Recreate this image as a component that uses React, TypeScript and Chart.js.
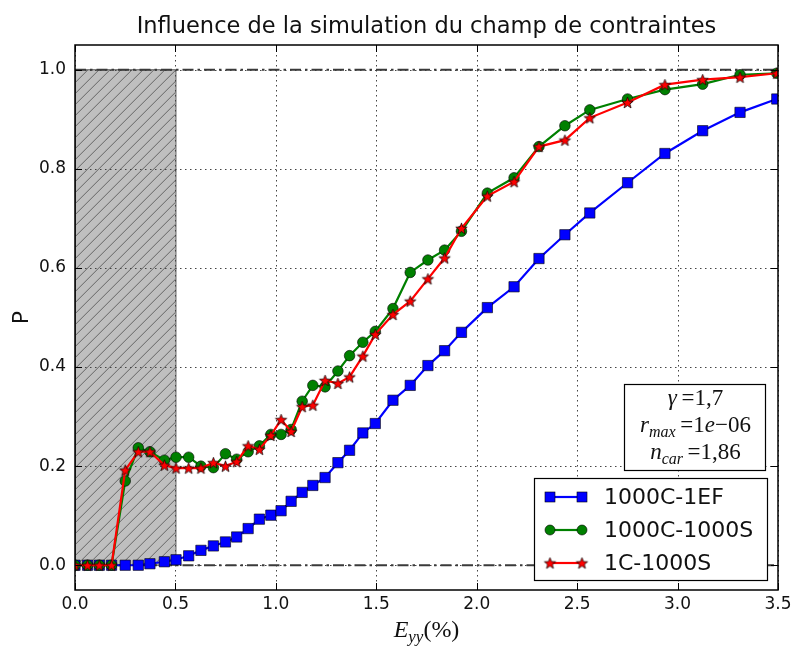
import React, { useEffect, useRef } from 'react';
import { Chart, registerables } from 'chart.js';

Chart.register(...registerables);

const TITLE = 'Influence de la simulation du champ de contraintes';
const Y_LABEL = 'P';
const X_TICKS = [0, 0.5, 1.0, 1.5, 2.0, 2.5, 3.0, 3.5];
const Y_TICKS = [0, 0.2, 0.4, 0.6, 0.8, 1.0];
const SERIES_NAMES = ['1000C-1EF', '1000C-1000S', '1C-1000S'];
const ANNOTATION_VALUES = ['1,7', '1e\u221206', '1,86'];

const strain = [0, 0.0625, 0.121, 0.182, 0.25, 0.315, 0.373, 0.445, 0.503, 0.566, 0.627, 0.689, 0.749, 0.805, 0.862, 0.918, 0.975, 1.026, 1.076, 1.131, 1.184, 1.245, 1.309, 1.367, 1.433, 1.495, 1.583, 1.669, 1.757, 1.84, 1.924, 2.053, 2.186, 2.31, 2.439, 2.563, 2.751, 2.937, 3.125, 3.311, 3.494];
const p1000C1EF = [0, 0, 0, 0, 0, 0, 0.003, 0.007, 0.011, 0.019, 0.03, 0.039, 0.047, 0.057, 0.074, 0.093, 0.101, 0.11, 0.129, 0.147, 0.161, 0.177, 0.207, 0.232, 0.267, 0.286, 0.333, 0.363, 0.403, 0.433, 0.47, 0.52, 0.562, 0.619, 0.667, 0.711, 0.772, 0.831, 0.877, 0.914, 0.941];
const p1000C1000S = [0, 0, 0, 0, 0.17, 0.237, 0.229, 0.212, 0.218, 0.218, 0.2, 0.197, 0.225, 0.214, 0.229, 0.241, 0.264, 0.264, 0.274, 0.331, 0.363, 0.36, 0.392, 0.423, 0.45, 0.472, 0.518, 0.591, 0.616, 0.636, 0.674, 0.751, 0.782, 0.845, 0.887, 0.919, 0.941, 0.96, 0.971, 0.99, 0.993];
const p1C1000S = [0, 0, 0, 0, 0.192, 0.229, 0.229, 0.202, 0.196, 0.196, 0.196, 0.207, 0.2, 0.209, 0.241, 0.234, 0.262, 0.294, 0.27, 0.32, 0.323, 0.373, 0.367, 0.38, 0.422, 0.466, 0.506, 0.533, 0.578, 0.62, 0.68, 0.745, 0.774, 0.845, 0.858, 0.903, 0.934, 0.97, 0.98, 0.985, 0.993];

const HATCH_X = [0, 0.5];
const HATCH_Y = [0, 1];
const REF_LINES = [0, 1];

const BLUE = '#0000ff';
const GREEN = '#008000';
const RED = '#ff0000';

function makeStar(R: number, fill: string): HTMLCanvasElement {
  const c = document.createElement('canvas');
  const s = Math.ceil(2 * R + 3);
  c.width = s;
  c.height = s;
  const g = c.getContext('2d')!;
  g.translate(s / 2, s / 2 + 0.6);
  g.beginPath();
  for (let i = 0; i < 10; i++) {
    const r = i % 2 === 0 ? R : R * 0.42;
    const a = -Math.PI / 2 + (i * Math.PI) / 5;
    g.lineTo(r * Math.cos(a), r * Math.sin(a));
  }
  g.closePath();
  g.fillStyle = fill;
  g.fill();
  g.strokeStyle = '#000';
  g.lineWidth = 0.7;
  g.stroke();
  return c;
}

type Run = { t: string; it?: boolean; sub?: boolean };

function drawRuns(ctx: CanvasRenderingContext2D, runs: Run[], cx: number, baseline: number, size: number, family: string) {
  const fontFor = (r: Run) => `${r.it ? 'italic ' : ''}${r.sub ? Math.round(size * 0.7) : size}px ${family}`;
  let total = 0;
  for (const r of runs) {
    ctx.font = fontFor(r);
    total += ctx.measureText(r.t).width;
  }
  let x = cx - total / 2;
  ctx.textAlign = 'left';
  ctx.textBaseline = 'alphabetic';
  for (const r of runs) {
    ctx.font = fontFor(r);
    ctx.fillText(r.t, x, baseline + (r.sub ? size * 0.22 : 0));
    x += ctx.measureText(r.t).width;
  }
}

export default function App() {
  const ref = useRef<HTMLCanvasElement | null>(null);

  useEffect(() => {
    if (!ref.current) return;
    const star = makeStar(6, RED);
    const toPts = (ys: number[]) => strain.map((x, i) => ({ x, y: ys[i] }));

    const background = {
      id: 'background',
      beforeDatasetsDraw(chart: any) {
        const { ctx, chartArea: a, scales } = chart;
        const xs = scales.x;
        const ys = scales.y;
        ctx.save();
        // hatched region
        const x0 = xs.getPixelForValue(HATCH_X[0]);
        const x1 = xs.getPixelForValue(HATCH_X[1]);
        const y0 = ys.getPixelForValue(HATCH_Y[0]);
        const y1 = ys.getPixelForValue(HATCH_Y[1]);
        ctx.fillStyle = '#bfbfbf';
        ctx.fillRect(x0, y1, x1 - x0, y0 - y1);
        ctx.save();
        ctx.beginPath();
        ctx.rect(x0, y1, x1 - x0, y0 - y1);
        ctx.clip();
        ctx.beginPath();
        const h = y0 - y1;
        for (let k = -h - 20; k < x1 - x0 + 20; k += 11) {
          ctx.moveTo(x0 + k, y0);
          ctx.lineTo(x0 + k + h, y1);
        }
        ctx.strokeStyle = '#666';
        ctx.lineWidth = 1;
        ctx.stroke();
        ctx.restore();
        ctx.strokeStyle = '#555';
        ctx.lineWidth = 1;
        ctx.strokeRect(x0 + 0.5, y1, x1 - x0, y0 - y1);

        // grid
        ctx.strokeStyle = '#444';
        ctx.lineWidth = 1;
        ctx.setLineDash([1.5, 3.5]);
        ctx.beginPath();
        for (const v of X_TICKS) {
          const px = Math.round(xs.getPixelForValue(v)) + 0.5;
          ctx.moveTo(px, a.top);
          ctx.lineTo(px, a.bottom);
        }
        for (const v of Y_TICKS) {
          const py = Math.round(ys.getPixelForValue(v)) + 0.5;
          ctx.moveTo(a.left, py);
          ctx.lineTo(a.right, py);
        }
        ctx.stroke();

        // dash-dot reference lines
        ctx.setLineDash([11, 4, 2.5, 4]);
        ctx.strokeStyle = '#3a3a3a';
        ctx.lineWidth = 2;
        ctx.beginPath();
        for (const v of REF_LINES) {
          const py = ys.getPixelForValue(v);
          ctx.moveTo(a.left, py);
          ctx.lineTo(a.right, py);
        }
        ctx.stroke();
        ctx.setLineDash([]);
        ctx.restore();
      },
      afterDatasetsDraw(chart: any) {
        const { ctx, chartArea: a, scales } = chart;
        const xs = scales.x;
        const ys = scales.y;
        ctx.save();
        // frame
        ctx.strokeStyle = '#000';
        ctx.lineWidth = 1.5;
        ctx.strokeRect(a.left, a.top, a.right - a.left, a.bottom - a.top);
        // ticks
        ctx.lineWidth = 1;
        ctx.beginPath();
        for (const v of X_TICKS) {
          const px = Math.round(xs.getPixelForValue(v)) + 0.5;
          ctx.moveTo(px, a.bottom);
          ctx.lineTo(px, a.bottom - 7);
          ctx.moveTo(px, a.top);
          ctx.lineTo(px, a.top + 7);
        }
        for (const v of Y_TICKS) {
          const py = Math.round(ys.getPixelForValue(v)) + 0.5;
          ctx.moveTo(a.left, py);
          ctx.lineTo(a.left + 7, py);
          ctx.moveTo(a.right, py);
          ctx.lineTo(a.right - 7, py);
        }
        ctx.stroke();

        // tick labels
        ctx.fillStyle = '#111';
        ctx.font = '17px "DejaVu Sans"';
        ctx.textAlign = 'center';
        ctx.textBaseline = 'middle';
        for (const v of X_TICKS) {
          ctx.fillText(v.toFixed(1), xs.getPixelForValue(v), a.bottom + 15);
        }
        ctx.textAlign = 'right';
        for (const v of Y_TICKS) {
          ctx.fillText(v.toFixed(1), a.left - 9, ys.getPixelForValue(v));
        }

        // title
        ctx.font = '22.5px "DejaVu Sans"';
        ctx.textAlign = 'center';
        ctx.textBaseline = 'alphabetic';
        ctx.fillText(TITLE, (a.left + a.right) / 2, 33);

        // y label
        ctx.save();
        ctx.translate(22, (a.top + a.bottom) / 2);
        ctx.rotate(-Math.PI / 2);
        ctx.font = '22px "DejaVu Sans"';
        ctx.textAlign = 'center';
        ctx.textBaseline = 'middle';
        ctx.fillText(Y_LABEL, 0, 0);
        ctx.restore();

        // x label
        drawRuns(ctx, [{ t: 'E', it: true }, { t: 'yy', it: true, sub: true }, { t: '(%)' }], (a.left + a.right) / 2, 637, 24, '"Liberation Serif"');

        // annotation box
        const bx0 = 624, bx1 = 765, by0 = 384, by1 = 470;
        ctx.fillStyle = '#fff';
        ctx.fillRect(bx0, by0, bx1 - bx0, by1 - by0);
        ctx.strokeStyle = '#000';
        ctx.lineWidth = 1.2;
        ctx.strokeRect(bx0 + 0.5, by0 + 0.5, bx1 - bx0, by1 - by0);
        ctx.fillStyle = '#111';
        const acx = (bx0 + bx1) / 2 + 1;
        drawRuns(ctx, [{ t: '\u03b3', it: true }, { t: '\u2009=' }, { t: ANNOTATION_VALUES[0] }], acx, 405, 23, '"Liberation Serif"');
        drawRuns(ctx, [{ t: 'r', it: true }, { t: 'max', it: true, sub: true }, { t: '\u2009=' }, { t: '1' }, { t: 'e', it: true }, { t: ANNOTATION_VALUES[1].slice(2) }], acx, 432, 23, '"Liberation Serif"');
        drawRuns(ctx, [{ t: 'n', it: true }, { t: 'car', it: true, sub: true }, { t: '\u2009=' }, { t: ANNOTATION_VALUES[2] }], acx, 459, 23, '"Liberation Serif"');

        // legend
        const lx0 = 534, lx1 = 767, ly0 = 478, ly1 = 580;
        ctx.fillStyle = '#fff';
        ctx.fillRect(lx0, ly0, lx1 - lx0, ly1 - ly0);
        ctx.strokeStyle = '#000';
        ctx.lineWidth = 1.2;
        ctx.strokeRect(lx0 + 0.5, ly0 + 0.5, lx1 - lx0, ly1 - ly0);
        const rows = [497, 530, 563];
        const cols = [BLUE, GREEN, RED];
        for (let i = 0; i < 3; i++) {
          const yy = rows[i];
          ctx.strokeStyle = cols[i];
          ctx.lineWidth = 2.2;
          ctx.beginPath();
          ctx.moveTo(550, yy);
          ctx.lineTo(582, yy);
          ctx.stroke();
          for (const mx of [550, 582]) {
            if (i === 0) {
              ctx.fillStyle = BLUE;
              ctx.fillRect(mx - 5, yy - 5, 10, 10);
              ctx.strokeStyle = '#000';
              ctx.lineWidth = 0.6;
              ctx.strokeRect(mx - 5, yy - 5, 10, 10);
            } else if (i === 1) {
              ctx.fillStyle = GREEN;
              ctx.beginPath();
              ctx.arc(mx, yy, 5, 0, Math.PI * 2);
              ctx.fill();
              ctx.strokeStyle = '#000';
              ctx.lineWidth = 0.6;
              ctx.stroke();
            } else {
              ctx.drawImage(star, mx - star.width / 2, yy - star.height / 2);
            }
          }
          ctx.fillStyle = '#111';
          ctx.font = '22px "DejaVu Sans"';
          ctx.textAlign = 'left';
          ctx.textBaseline = 'middle';
          ctx.fillText(SERIES_NAMES[i], 604, yy + 1);
        }
        ctx.restore();
      },
    };

    const chart = new Chart(ref.current, {
      type: 'scatter',
      data: {
        datasets: [
          {
            label: SERIES_NAMES[0],
            data: toPts(p1000C1EF),
            showLine: true,
            borderColor: BLUE,
            borderWidth: 2.2,
            backgroundColor: BLUE,
            pointStyle: 'rect',
            pointRadius: 7.3,
            pointBackgroundColor: BLUE,
            pointBorderColor: '#000',
            pointBorderWidth: 0.6,
            clip: 0,
            order: 2,
          },
          {
            label: SERIES_NAMES[1],
            data: toPts(p1000C1000S),
            showLine: true,
            borderColor: GREEN,
            borderWidth: 2.2,
            backgroundColor: GREEN,
            pointStyle: 'circle',
            pointRadius: 5.3,
            pointBackgroundColor: GREEN,
            pointBorderColor: '#000',
            pointBorderWidth: 0.6,
            clip: 0,
            order: 1,
          },
          {
            label: SERIES_NAMES[2],
            data: toPts(p1C1000S),
            showLine: true,
            borderColor: RED,
            borderWidth: 2.2,
            backgroundColor: RED,
            pointStyle: star as any,
            pointRadius: 6,
            clip: 0,
            order: 0,
          },
        ],
      },
      options: {
        responsive: false,
        animation: false,
        events: [],
        layout: { padding: { left: 75, right: 14, top: 45, bottom: 56 } },
        plugins: { legend: { display: false }, tooltip: { enabled: false }, title: { display: false } },
        scales: {
          x: { type: 'linear', min: 0, max: 3.5, display: false },
          y: { type: 'linear', min: -0.05, max: 1.05, display: false },
        },
      },
      plugins: [background],
    });
    return () => chart.destroy();
  }, []);

  return (
    <div style={{ position: 'fixed', left: 0, top: 0, width: 792, height: 646, background: '#fff' }}>
      <canvas ref={ref} width={792} height={646} style={{ width: 792, height: 646, display: 'block' }} />
    </div>
  );
}
